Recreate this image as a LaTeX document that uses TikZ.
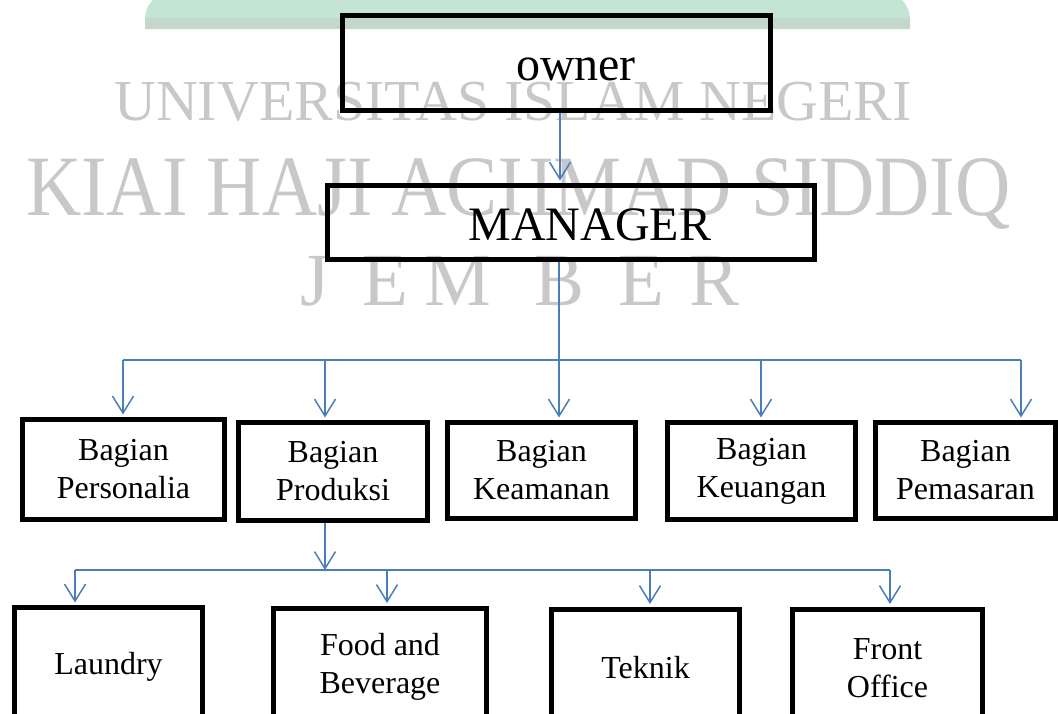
\documentclass[tikz,border=0pt]{standalone}
\usepackage{fontspec}
\setmainfont{Liberation Serif}
\usetikzlibrary{arrows.meta}
\definecolor{linkblue}{HTML}{4A7EBB}
\definecolor{wmgray}{HTML}{C8C8C8}
\definecolor{wmgreen}{HTML}{C4E5D4}
\definecolor{wmgreendark}{HTML}{C3D7CB}
\newcommand{\boxfont}{\fontsize{32}{38}\selectfont}
\newcommand{\headfont}{\fontsize{48}{54}\selectfont}

\begin{document}
\begin{tikzpicture}[x=1pt,y=-1pt,
    unit/.style={draw, line width=5pt, inner sep=0pt, align=center, font=\boxfont},
    wire/.style={draw=linkblue, line width=1.5pt},
    link/.style={wire, -{Straight Barb[length=17pt,width=21pt]}, shorten >=2.5pt},
    wm/.style={text=wmgray, inner sep=0pt}]
  \useasboundingbox (0,0) rectangle (1058,713);
  \clip (0,0) rectangle (1058,713);

  % watermark
  \fill[wmgreen] (153,0) .. controls (147,6) and (145,12) .. (145,20) -- (145,29)
    -- (910,29) -- (910,20) .. controls (910,12) and (908,6) .. (902,0) -- cycle;
  \fill[wmgreendark] (145,18) -- (910,18) -- (910,29) -- (145,29) -- cycle;
  \node[wm, anchor=base west, font=\fontsize{58}{58}\selectfont] (wmline1) at (114,120) {UNIVERSITAS ISLAM NEGERI};
  \node[wm, anchor=base west, xscale=0.89, font=\fontsize{86}{86}\selectfont] (wmline2) at (26,215) {KIAI HAJI ACHMAD SIDDIQ};
  \foreach \ch/\x [count=\i] in {J/315,E/385,M/458,B/560,E/641,R/715}
    \node[wm, anchor=base, font=\fontsize{75}{75}\selectfont] (wmcity\i) at (\x,305) {\ch};

  % top
  \node[unit, minimum width=428pt, minimum height=95pt,
    label={[font=\headfont, xshift=19.5pt, yshift=-6pt]center:owner}] (owner) at (556.5,63) {};
  \node[unit, minimum width=487pt, minimum height=74pt,
    label={[font=\headfont, xshift=19pt, yshift=-2.5pt]center:MANAGER}] (manager) at (571,222.5) {};

  % bagian
  \node[unit, minimum width=202pt, minimum height=100pt] (personalia) at (123.5,469.5) {Bagian\\Personalia};
  \node[unit, minimum width=189pt, minimum height=98pt] (produksi) at (333,471.5) {Bagian\\Produksi};
  \node[unit, minimum width=188pt, minimum height=96pt] (keamanan) at (541.5,470.5) {Bagian\\Keamanan};
  \node[unit, minimum width=188pt, minimum height=97pt] (keuangan) at (761.5,471) {Bagian\\Keuangan};
  \node[unit, minimum width=180pt, minimum height=96pt] (pemasaran) at (965.5,470.5) {Bagian\\Pemasaran};

  % produksi
  \node[unit, minimum width=188pt, minimum height=118pt] (laundry) at (108.5,666.5) {Laundry};
  \node[unit, minimum width=213pt, minimum height=118pt] (food) at (380,667) {Food and\\Beverage};
  \node[unit, minimum width=188pt, minimum height=118pt] (teknik) at (645.5,668) {Teknik};
  \node[unit, minimum width=190pt, minimum height=118pt] (frontoffice) at (887.5,668) {Front\\Office};

  % connectors
  \coordinate (busA) at (559,360);
  \coordinate (busB) at (325,570);
  \draw[link] ([xshift=3.5pt]owner.south) -- ([xshift=3.5pt]owner.south |- manager.north);
  \draw[wire] ([xshift=-12pt]manager.south) -- (busA);
  \draw[wire] (123,360) -- (1021,360);
  \foreach \dst/\x in {personalia/123,produksi/325,keamanan/559,keuangan/761,pemasaran/1021}
    \draw[link] (\x,360) -- (\x,0 |- \dst.north);
  \draw[link, shorten >=0pt] ([xshift=-8pt]produksi.south) -- (busB);
  \draw[wire] (75,570) -- (890,570);
  \foreach \dst/\x in {laundry/75,food/387,teknik/650,frontoffice/890}
    \draw[link] (\x,570) -- (\x,0 |- \dst.north);
\end{tikzpicture}
\end{document}
